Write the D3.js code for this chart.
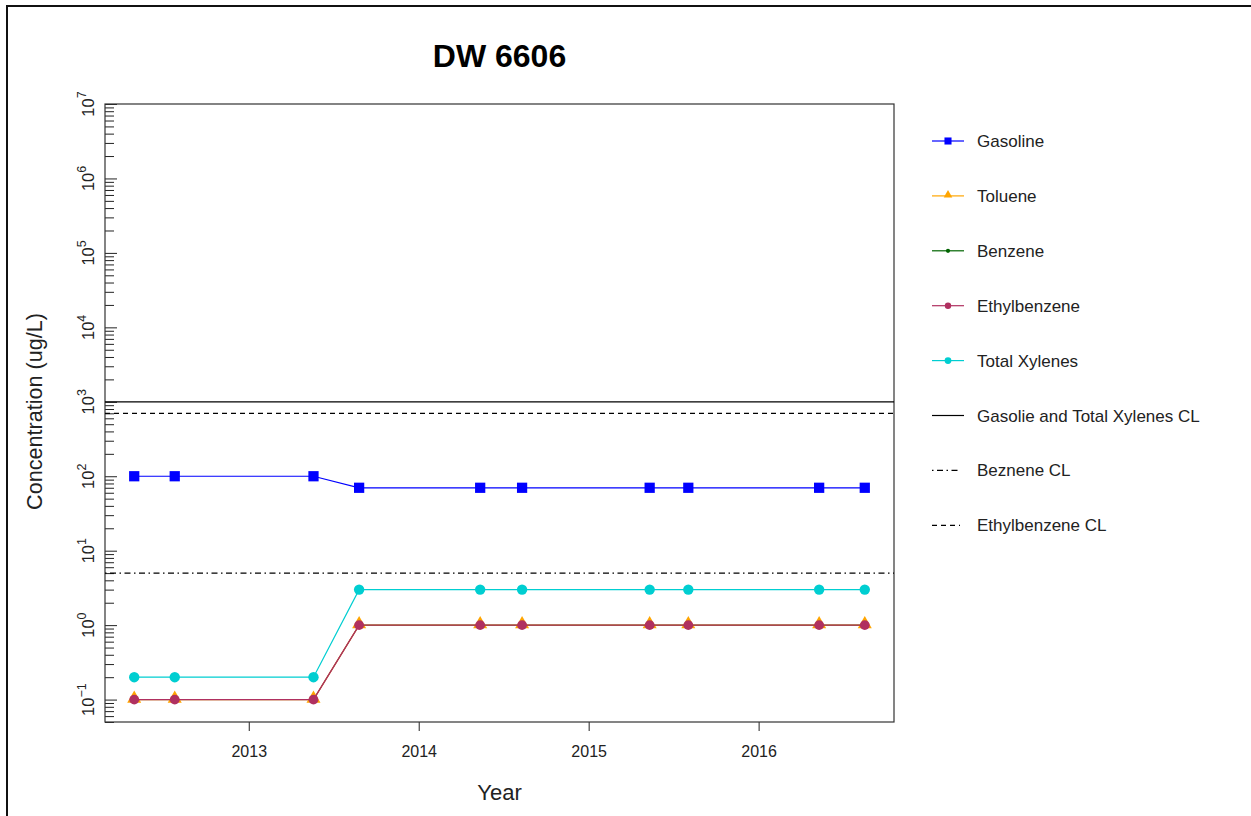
<!DOCTYPE html>
<html>
<head>
<meta charset="utf-8">
<script src="https://cdn.jsdelivr.net/npm/d3@7"></script>
<style>
  html, body { margin: 0; padding: 0; background: #fff; }
  svg { display: block; font-family: "Liberation Sans", Arial, sans-serif; }
</style>
</head>
<body>
<svg id="chart" width="1251" height="816"></svg>
<script>
// ---------- data ----------
const sampleDates = ["2012-04-30","2012-07-26","2013-05-20","2013-08-26","2014-05-13","2014-08-11","2015-05-12","2015-08-03","2016-05-10","2016-08-16"];
const gasoline     = [100, 100, 100, 70, 70, 70, 70, 70, 70, 70];
const toluene      = [0.1, 0.1, 0.1, 1, 1, 1, 1, 1, 1, 1];
const benzene      = [0.1, 0.1, 0.1, 1, 1, 1, 1, 1, 1, 1];
const ethylbenzene = [0.1, 0.1, 0.1, 1, 1, 1, 1, 1, 1, 1];
const totalXylenes = [0.2, 0.2, 0.2, 3, 3, 3, 3, 3, 3, 3];
const gasolineXylenesCL = 1000;
const benzeneCL = 5;
const ethylbenzeneCL = 700;
const yLimits = [0.05, 1e7];
const yMajorExponents = [-1, 0, 1, 2, 3, 4, 5, 6, 7];
const xTickYears = [2013, 2014, 2015, 2016];
const legendLabels = ["Gasoline", "Toluene", "Benzene", "Ethylbenzene", "Total Xylenes",
                      "Gasolie and Total Xylenes CL", "Beznene CL", "Ethylbenzene CL"];
const chartTitle = "DW 6606";
const xTitle = "Year";
const yTitle = "Concentration (ug/L)";

// ---------- layout ----------
const svg = d3.select("#chart");
const L = 105, R = 894, T = 104, B = 722;
const parse = d3.timeParse("%Y-%m-%d");
const dates = sampleDates.map(parse);

const ext = d3.extent(dates);
const pad = (ext[1] - ext[0]) * 0.04;
const x = d3.scaleTime().domain([new Date(+ext[0] - pad), new Date(+ext[1] + pad)]).range([L, R]);
const y = d3.scaleLog().domain(yLimits).range([B, T]);

// outer frame
svg.append("line").attr("x1", 7).attr("x2", 1251).attr("y1", 6).attr("y2", 6)
  .attr("stroke", "#111").attr("stroke-width", 2);
svg.append("line").attr("x1", 7).attr("x2", 7).attr("y1", 5).attr("y2", 816)
  .attr("stroke", "#111").attr("stroke-width", 2);

// title
svg.append("text").attr("x", (L + R) / 2).attr("y", 67).attr("text-anchor", "middle")
  .attr("font-size", 32).attr("font-weight", "bold").attr("fill", "#000").text(chartTitle);

// y ticks (inward)
const majorVals = yMajorExponents.map(e => Math.pow(10, e));
const minorVals = [];
for (let e = -2; e <= 7; e++) for (let m = 2; m <= 9; m++) {
  const v = m * Math.pow(10, e);
  if (v >= yLimits[0] && v <= yLimits[1]) minorVals.push(v);
}
const yMinorAxis = d3.axisRight(y).tickValues(minorVals).tickSize(9).tickFormat("");
const yMajorAxis = d3.axisRight(y).tickValues(majorVals).tickSize(12).tickFormat("");
const gyMin = svg.append("g").attr("transform", `translate(${L},0)`).call(yMinorAxis);
const gyMaj = svg.append("g").attr("transform", `translate(${L},0)`).call(yMajorAxis);
[gyMin, gyMaj].forEach(g => {
  g.select(".domain").remove();
  g.selectAll(".tick line").attr("stroke", "#222").attr("stroke-width", 1);
});

// y tick labels (rotated, 10^k)
yMajorExponents.forEach(e => {
  const t = svg.append("text")
    .attr("transform", `translate(94,${y(Math.pow(10, e))}) rotate(-90)`)
    .attr("text-anchor", "middle").attr("font-size", 16.5).attr("fill", "#222");
  t.append("tspan").text("10");
  t.append("tspan").attr("dy", -8).attr("font-size", 12.5).text(String(e).replace("-", "\u2212"));
});

// x axis
const xAxis = d3.axisBottom(x)
  .tickValues(xTickYears.map(yr => new Date(yr, 0, 1)))
  .tickSize(9).tickPadding(15).tickFormat(d3.timeFormat("%Y"));
const gx = svg.append("g").attr("transform", `translate(0,${B})`).call(xAxis);
gx.select(".domain").remove();
gx.selectAll(".tick line").attr("stroke", "#222");
gx.selectAll(".tick text").attr("font-size", 16).attr("fill", "#222")
  .attr("font-family", "\"Liberation Sans\", Arial, sans-serif");

// axis titles
svg.append("text").attr("x", (L + R) / 2).attr("y", 800).attr("text-anchor", "middle")
  .attr("font-size", 22).attr("fill", "#222").text(xTitle);
svg.append("text").attr("transform", `translate(42,411.5) rotate(-90)`)
  .attr("text-anchor", "middle").attr("font-size", 21.6).attr("fill", "#222").text(yTitle);

// plot box
svg.append("rect").attr("x", L).attr("y", T).attr("width", R - L).attr("height", B - T)
  .attr("fill", "none").attr("stroke", "#333").attr("stroke-width", 1.2);

const plot = svg.append("g");

// marker shapes
const sym = {
  square: d3.symbol().type(d3.symbolSquare),
  triangle: d3.symbol().type(d3.symbolTriangle),
  circle: d3.symbol().type(d3.symbolCircle)
};

const series = [
  { name: "Gasoline", vals: gasoline, color: "#0000FF", shape: "square", size: 105, lsize: 50, lw: 1.2 },
  { name: "Toluene", vals: toluene, color: "#FFA500", shape: "triangle", size: 85, lsize: 32, lw: 1.2 },
  { name: "Benzene", vals: benzene, color: "#006400", shape: "circle", size: 25, lsize: 14, lw: 0.7 },
  { name: "Ethylbenzene", vals: ethylbenzene, color: "#B03060", shape: "circle", size: 75, lsize: 32, lw: 1.4 },
  { name: "Total Xylenes", vals: totalXylenes, color: "#00CED1", shape: "circle", size: 85, lsize: 36, lw: 1.2 }
];

const line = d3.line().x(d => x(d[0])).y(d => y(d[1]));
series.forEach(s => {
  const pts = dates.map((d, i) => [d, s.vals[i]]);
  plot.append("path").attr("d", line(pts)).attr("fill", "none")
    .attr("stroke", s.color).attr("stroke-width", s.lw);
  plot.selectAll(null).data(pts).enter().append("path")
    .attr("d", sym[s.shape].size(s.size)())
    .attr("transform", d => `translate(${x(d[0])},${y(d[1]) + (s.shape === "triangle" ? -1 : 0)})`)
    .attr("fill", s.color);
});

// control limit lines
const cls = [
  { v: gasolineXylenesCL, dash: null },
  { v: benzeneCL, dash: "1.5,3.5,6,3.5" },
  { v: ethylbenzeneCL, dash: "5,4" }
];
cls.forEach(c => {
  plot.append("line").attr("x1", L).attr("x2", R).attr("y1", y(c.v)).attr("y2", y(c.v))
    .attr("stroke", "#000").attr("stroke-width", 1.2)
    .attr("stroke-dasharray", c.dash);
});

// legend
const lg = svg.append("g");
const ly0 = 141, ldy = 54.9, lx1 = 932, lx2 = 964, ltx = 977;
legendLabels.forEach((lab, i) => {
  const yy = ly0 + i * ldy;
  if (i < 5) {
    const s = series[i];
    lg.append("line").attr("x1", lx1).attr("x2", lx2).attr("y1", yy).attr("y2", yy)
      .attr("stroke", s.color).attr("stroke-width", 1.2);
    lg.append("path").attr("d", sym[s.shape].size(s.lsize)())
      .attr("transform", `translate(${(lx1 + lx2) / 2},${yy + (s.shape === "triangle" ? -1 : 0)})`)
      .attr("fill", s.color);
  } else {
    const c = cls[i - 5];
    lg.append("line").attr("x1", lx1).attr("x2", c.dash ? lx2 - 4 : lx2).attr("y1", yy).attr("y2", yy)
      .attr("stroke", "#000").attr("stroke-width", 1.2)
      .attr("stroke-dasharray", c.dash);
  }
  lg.append("text").attr("x", ltx).attr("y", yy + 6).attr("font-size", 17)
    .attr("fill", "#222").text(lab);
});
</script>
</body>
</html>
